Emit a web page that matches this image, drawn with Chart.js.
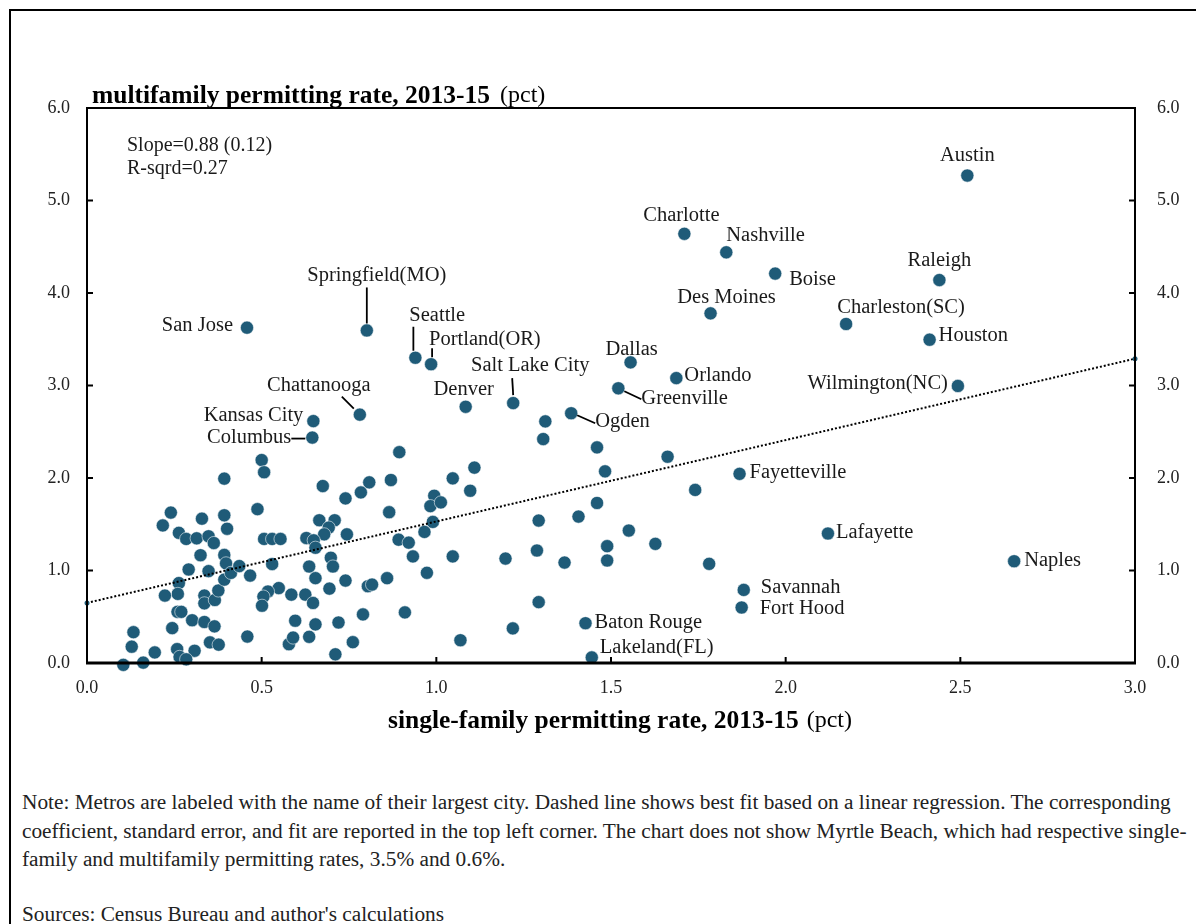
<!DOCTYPE html>
<html><head><meta charset="utf-8">
<script src="https://cdn.jsdelivr.net/npm/chart.js@4.4.1/dist/chart.umd.min.js"></script>
<style>
html,body{margin:0;padding:0;background:#fff;width:1198px;height:924px;overflow:hidden;}
#frame{position:absolute;left:9px;top:9px;width:1185px;height:960px;border-left:2px solid #000;border-top:2px solid #000;}
#c{position:absolute;left:0;top:0;}
.txt{position:absolute;left:22px;font-family:'Liberation Serif',serif;font-size:21.3px;line-height:28.5px;color:#222;white-space:nowrap;}
</style></head>
<body>
<div id="frame"></div>
<canvas id="c" width="1198" height="760"></canvas>
<div class="txt" id="note" style="top:788px">Note: Metros are labeled with the name of their largest city. Dashed line shows best fit based on a linear regression. The corresponding<br>coefficient, standard error, and fit are reported in the top left corner. The chart does not show Myrtle Beach, which had respective single-<br>family and multifamily permitting rates, 3.5% and 0.6%.</div>
<div class="txt" id="src" style="top:900px">Sources: Census Bureau and author's calculations</div>
<script>
// ---- data ----
const cities = ['Austin','Charlotte','Nashville','Boise','Raleigh','Des Moines','Charleston(SC)','Houston','Wilmington(NC)','Orlando','Dallas','Greenville','Ogden','Salt Lake City','Denver','San Jose','Springfield(MO)','Seattle','Portland(OR)','Chattanooga','Kansas City','Columbus','Fayetteville','Lafayette','Naples','Savannah','Fort Hood','Baton Rouge','Lakeland(FL)'];
const citySingle = [2.52,1.71,1.83,1.97,2.44,1.785,2.173,2.412,2.493,1.687,1.556,1.521,1.386,1.22,1.084,0.458,0.801,0.94,0.985,0.781,0.648,0.645,1.868,2.121,2.654,1.88,1.874,1.427,1.445];
const cityMulti  = [5.27,4.64,4.44,4.21,4.14,3.78,3.665,3.495,2.995,3.08,3.25,2.97,2.70,2.81,2.77,3.625,3.595,3.30,3.23,2.685,2.615,2.437,2.045,1.40,1.10,0.79,0.60,0.43,0.06];

const otherSingle = [0.500,0.507,0.393,0.488,0.240,0.217,0.329,0.393,0.401,0.263,0.284,0.314,0.348,0.363,0.325,0.393,0.398,0.291,0.348,0.263,0.260,0.223,0.336,0.336,0.366,0.376,0.393,0.412,0.436,0.467,0.507,0.530,0.554,0.530,0.549,0.518,0.505,0.501,0.259,0.270,0.301,0.336,0.365,0.244,0.133,0.459,0.128,0.352,0.377,0.194,0.258,0.308,0.265,0.284,0.161,0.104,
  0.894,0.675,0.808,0.784,0.870,0.740,1.047,1.097,0.994,0.983,1.013,0.865,0.665,0.709,0.692,0.679,0.744,0.628,0.649,0.654,0.990,0.966,0.892,0.921,0.933,1.047,0.698,0.704,0.636,0.654,0.740,0.859,0.973,0.804,0.816,0.694,0.585,0.625,0.647,0.596,0.654,0.720,0.790,0.910,1.069,0.578,0.590,0.636,0.761,0.711,1.109,
  1.312,1.306,1.460,1.483,1.460,1.407,1.293,1.551,1.489,1.489,1.367,1.288,1.198,1.293,1.219,
  1.662,1.741,1.781,1.627];
const otherMulti = [2.194,2.062,1.993,1.663,1.626,1.487,1.560,1.597,1.451,1.407,1.341,1.348,1.370,1.297,1.165,1.168,1.077,1.011,0.993,0.864,0.747,0.729,0.729,0.645,0.681,0.784,0.901,0.974,1.048,0.945,1.341,1.341,1.341,1.070,0.810,0.773,0.718,0.619,0.553,0.553,0.462,0.443,0.396,0.377,0.333,0.286,0.176,0.223,0.198,0.114,0.150,0.132,0.066,0.040,0.004,-0.02,
  2.279,1.913,1.953,1.844,1.978,1.779,1.996,1.862,1.808,1.696,1.736,1.630,1.543,1.543,1.464,1.391,1.391,1.351,1.326,1.246,1.525,1.417,1.333,1.301,1.152,1.152,1.138,1.043,1.043,0.917,0.891,0.917,0.975,0.830,0.848,0.804,0.739,0.739,0.649,0.457,0.417,0.438,0.525,0.547,0.246,0.203,0.275,0.283,0.225,0.094,2.112,
  2.612,2.421,2.331,2.072,1.730,1.583,1.540,1.432,1.263,1.108,1.086,1.216,1.129,0.658,0.374,
  2.230,1.871,1.072,1.288];

const fitX = [0, 3];
const fitY = [0.65, 3.29];
const xTickValues = [0, 0.5, 1.0, 1.5, 2.0, 2.5, 3.0];
const yTickValues = [0, 1, 2, 3, 4, 5, 6];
const statLines = ['Slope=0.88 (0.12)', 'R-sqrd=0.27'];
const yTitleBold = 'multifamily permitting rate, 2013-15', yTitleUnit = '(pct)';
const xTitleBold = 'single-family permitting rate, 2013-15', xTitleUnit = '(pct)';

// ---- label placement (styling, pixel offsets from the dot) ----
const labelStyle = {
  'Austin':{dx:0,dy:-20,a:'center'}, 'Charlotte':{dx:-3,dy:-18,a:'center'}, 'Nashville':{dx:0,dy:-17,a:'left'},
  'Boise':{dx:14,dy:6,a:'left'}, 'Raleigh':{dx:0,dy:-19,a:'center'}, 'Des Moines':{dx:16,dy:-16,a:'center'},
  'Charleston(SC)':{dx:55,dy:-16,a:'center'}, 'Houston':{dx:9,dy:-4,a:'left'}, 'Wilmington(NC)':{dx:-10,dy:-2,a:'right'},
  'Orlando':{dx:8,dy:-2,a:'left'}, 'Dallas':{dx:1,dy:-13,a:'center'},
  'Greenville':{dx:23,dy:10,a:'left',ln:[6,3,23,11]}, 'Ogden':{dx:24,dy:8,a:'left',ln:[6,2,24,10]},
  'Salt Lake City':{dx:17,dy:-37,a:'center',ln:[-1,-25,0,-8]}, 'Denver':{dx:-2,dy:-17,a:'center'},
  'San Jose':{dx:-14,dy:-2,a:'right'}, 'Springfield(MO)':{dx:10,dy:-55,a:'center',ln:[0,-43,0,-7]},
  'Seattle':{dx:-6,dy:-42,a:'left',ln:[-2,-31,-2,-7]}, 'Portland(OR)':{dx:-2,dy:-25,a:'left',ln:[1,-16,1,-7]},
  'Chattanooga':{dx:-41,dy:-29,a:'center',ln:[-18,-18,-6,-6]}, 'Kansas City':{dx:-10,dy:-6,a:'right'},
  'Columbus':{dx:-21,dy:0,a:'right',ln:[-21,1,-7,1]}, 'Fayetteville':{dx:10,dy:-1,a:'left'},
  'Lafayette':{dx:8,dy:-1,a:'left'}, 'Naples':{dx:10,dy:-1,a:'left'}, 'Savannah':{dx:17,dy:-2,a:'left'},
  'Fort Hood':{dx:18,dy:1,a:'left'}, 'Baton Rouge':{dx:9,dy:-1,a:'left'}, 'Lakeland(FL)':{dx:8,dy:-10,a:'left'}
};

const SERIF = "'Liberation Serif', 'Times New Roman', serif";
const DOT = '#1f5b78';
const pts = (xs, ys) => xs.map((x, i) => ({x: x, y: ys[i]}));

const annot = {
  id: 'annot',
  afterDraw(chart) {
    const ctx = chart.ctx, a = chart.chartArea;
    const xs = chart.scales.x, ys = chart.scales.y;
    ctx.save();
    // frame
    ctx.strokeStyle = '#000';
    ctx.lineWidth = 2;
    ctx.beginPath();
    ctx.moveTo(a.left, a.bottom); ctx.lineTo(a.left, a.top); ctx.lineTo(a.right, a.top); ctx.lineTo(a.right, a.bottom);
    ctx.stroke();
    ctx.lineWidth = 3;
    ctx.beginPath(); ctx.moveTo(a.left - 1, a.bottom); ctx.lineTo(a.right + 1, a.bottom); ctx.stroke();
    // inward ticks
    ctx.lineWidth = 2;
    ctx.beginPath();
    yTickValues.slice(1, -1).forEach(v => {
      const py = ys.getPixelForValue(v);
      ctx.moveTo(a.left, py); ctx.lineTo(a.left + 6, py);
      ctx.moveTo(a.right, py); ctx.lineTo(a.right - 6, py);
    });
    xTickValues.slice(1, -1).forEach(v => {
      const px = xs.getPixelForValue(v);
      ctx.moveTo(px, a.bottom); ctx.lineTo(px, a.bottom - 6);
    });
    ctx.stroke();
    // city labels
    ctx.fillStyle = '#1a1a1a';
    ctx.font = '20.5px ' + SERIF;
    ctx.textBaseline = 'middle';
    ctx.lineWidth = 1.8;
    cities.forEach((name, i) => {
      const st = labelStyle[name];
      const px = xs.getPixelForValue(citySingle[i]), py = ys.getPixelForValue(cityMulti[i]);
      ctx.textAlign = st.a;
      ctx.fillText(name, px + st.dx, py + st.dy);
      if (st.ln) {
        ctx.beginPath();
        ctx.moveTo(px + st.ln[0], py + st.ln[1]); ctx.lineTo(px + st.ln[2], py + st.ln[3]);
        ctx.stroke();
      }
    });
    // statistics
    ctx.textAlign = 'left';
    ctx.font = '20px ' + SERIF;
    ctx.fillText(statLines[0], a.left + 40, 146);
    ctx.fillText(statLines[1], a.left + 40, 169);
    // axis titles
    ctx.fillStyle = '#000';
    ctx.font = 'bold 25.5px ' + SERIF;
    ctx.fillText(yTitleBold, 92, 96);
    let w = ctx.measureText(yTitleBold).width;
    ctx.font = '24px ' + SERIF;
    ctx.fillText(yTitleUnit, 92 + w + 10, 96);
    ctx.font = 'bold 25.5px ' + SERIF;
    const wb = ctx.measureText(xTitleBold).width;
    ctx.font = '24px ' + SERIF;
    const wu = ctx.measureText(xTitleUnit).width;
    const total = wb + 8 + wu;
    const x0 = (a.left + a.right) / 2 + 9 - total / 2;
    ctx.font = 'bold 25.5px ' + SERIF;
    ctx.fillText(xTitleBold, x0, 721);
    ctx.font = '24px ' + SERIF;
    ctx.fillText(xTitleUnit, x0 + wb + 8, 721);
    ctx.restore();
  }
};

const tickFont = {family: SERIF, size: 18};
const fmt = v => Number(v).toFixed(1);

new Chart(document.getElementById('c'), {
  type: 'scatter',
  data: {
    datasets: [
      {type: 'line', data: pts(fitX, fitY), borderColor: '#000', borderWidth: 2, borderDash: [2, 2],
       pointRadius: 2.5, pointBackgroundColor: DOT, pointBorderWidth: 0, fill: false, order: 0, clip: false},
      {data: pts(otherSingle, otherMulti), backgroundColor: DOT, borderColor: 'rgba(255,255,255,0.55)', borderWidth: 1, pointRadius: 6.6, order: 1, clip: false},
      {data: pts(citySingle, cityMulti), backgroundColor: DOT, borderColor: 'rgba(255,255,255,0.55)', borderWidth: 1, pointRadius: 6.6, order: 1, clip: false}
    ]
  },
  options: {
    responsive: false, animation: false, devicePixelRatio: 1,
    layout: {padding: {top: 108, left: 0, right: 0, bottom: 0}},
    plugins: {legend: {display: false}, tooltip: {enabled: false}},
    scales: {
      x: {type: 'linear', position: 'bottom', min: 0, max: 3,
          afterBuildTicks: s => { s.ticks = xTickValues.map(v => ({value: v})); },
          ticks: {callback: fmt, font: tickFont, color: '#222', padding: 14, maxRotation: 0, autoSkip: false},
          grid: {display: false, drawTicks: false}, border: {display: false},
          afterFit: s => { s.height = 97; }},
      y: {type: 'linear', position: 'left', min: 0, max: 6,
          afterBuildTicks: s => { s.ticks = yTickValues.map(v => ({value: v})); },
          ticks: {callback: fmt, font: tickFont, color: '#222', padding: 17},
          grid: {display: false, drawTicks: false}, border: {display: false},
          afterFit: s => { s.width = 87; }},
      y2: {type: 'linear', position: 'right', min: 0, max: 6,
          afterBuildTicks: s => { s.ticks = yTickValues.map(v => ({value: v})); },
          ticks: {callback: fmt, font: tickFont, color: '#222', padding: 22},
          grid: {display: false, drawTicks: false}, border: {display: false},
          afterFit: s => { s.width = 63; }}
    }
  },
  plugins: [annot]
});
</script>
</body></html>
